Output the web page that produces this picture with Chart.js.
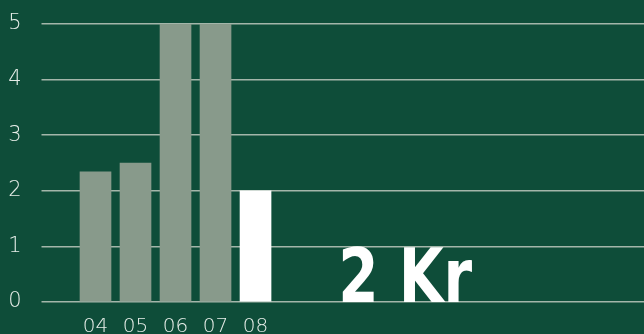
<!DOCTYPE html>
<html>
<head>
<meta charset="utf-8">
<script src="https://cdn.jsdelivr.net/npm/chart.js@4/dist/chart.umd.min.js"></script>
<style>
  html, body { margin: 0; padding: 0; background: #0e4d39; }
  #wrap { width: 644px; height: 334px; position: relative; }
</style>
</head>
<body>
<div id="wrap"><canvas id="chart"></canvas></div>
<script>
const xLabels = ["04", "05", "06", "07", "08"];
const values = [2.34, 2.5, 5, 5, 2];
const yTicks = [0, 1, 2, 3, 4, 5];
const bigText = "2 Kr";

let barColors = xLabels.map((l, i) => i === xLabels.length - 1 ? "#ffffff" : "#889a8b");

const bigLabel = {
    id: "bigLabel",
    afterDatasetsDraw(chart) {
        const ctx = chart.ctx;
        const x = chart.scales.x.getPixelForValue(7.74);
        const y = chart.scales.y.getPixelForValue(0);
        ctx.save();
        ctx.fillStyle = "#ffffff";
        ctx.font = "bold 75px 'DejaVu Sans Condensed'";
        ctx.textAlign = "center";
        ctx.textBaseline = "alphabetic";
        ctx.fillText(bigText, x, y, 134);
        ctx.restore();
    }
};

new Chart(document.getElementById("chart").getContext("2d"), {
    type: "bar",
    data: {
        datasets: [{
            data: xLabels.map((l, i) => ({x: i, y: values[i]})),
            backgroundColor: barColors,
            barThickness: 31,
            borderWidth: 0
        }]
    },
    options: {
        responsive: true,
        maintainAspectRatio: false,
        animation: false,
        layout: { padding: { top: 0, right: 0, left: 0, bottom: 0 } },
        plugins: { legend: { display: false }, tooltip: { enabled: false } },
        scales: {
            x: {
                type: "linear",
                offset: false,
                min: -0.5,
                max: 13.71,
                afterFit: (axis) => { axis.height = 32; },
                afterBuildTicks: (axis) => { axis.ticks = xLabels.map((l, i) => ({value: i})); },
                grid: { display: false },
                border: { display: false },
                ticks: {
                    autoSkip: false,
                    maxRotation: 0,
                    padding: 5,
                    color: "#e6ede8",
                    font: { family: "'DejaVu Sans'", weight: 200, size: 20 },
                    callback: (v) => xLabels[v] ?? ""
                }
            },
            y: {
                min: 0,
                max: 5,
                afterFit: (axis) => { axis.width = 75.5; axis.paddingTop = 24; },
                afterBuildTicks: (axis) => { axis.ticks = yTicks.map(v => ({value: v})); },
                grid: {
                    color: "#a3b6aa",
                    lineWidth: 1.5,
                    drawTicks: true,
                    tickLength: 34,
                    tickColor: "#a3b6aa"
                },
                border: { display: false },
                ticks: {
                    padding: 20,
                    color: "#e6ede8",
                    font: { family: "'DejaVu Sans'", weight: 200, size: 21, lineHeight: 0.6 }
                }
            }
        }
    },
    plugins: [bigLabel]
});
</script>
</body>
</html>
